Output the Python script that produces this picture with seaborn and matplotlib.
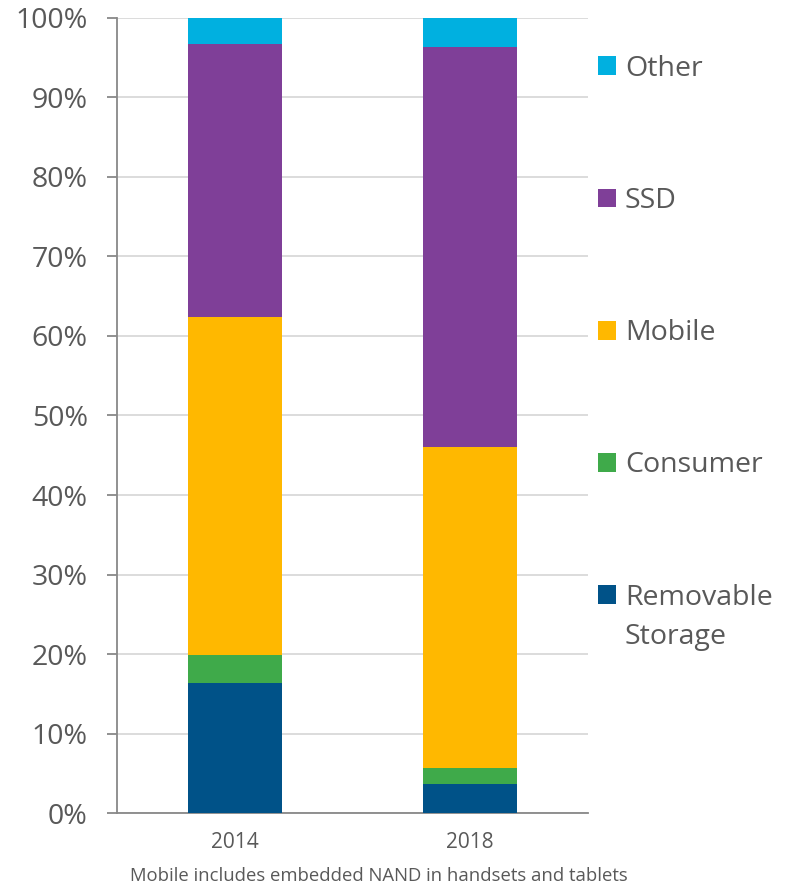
import numpy as np
import pandas as pd
import matplotlib
matplotlib.use("Agg")
import matplotlib.pyplot as plt
import seaborn as sns
from matplotlib.patches import Patch

# 数据 (百分比)
years = ["2014", "2018"]
removable = [16.4, 3.7]
consumer = [3.5, 2.0]
mobile = [42.5, 40.3]
ssd = [34.3, 50.4]
other = [3.3, 3.6]

series_names = ["Removable", "Consumer", "Mobile", "SSD", "Other"]
series_vals = [removable, consumer, mobile, ssd, other]
colors = ["#005288", "#3FAA4A", "#FFB800", "#7F3F98", "#00B0E0"]

sns.set_theme(style="white")
plt.rcParams['font.family'] = ['Open Sans', 'DejaVu Sans']
txt = "#595959"

fig = plt.figure(figsize=(7.88, 8.90), dpi=100)
ax = fig.add_axes([0.1485, 0.0865, 0.5975, 0.8933])

# 累计值, 从最上层开始画 (堆叠)
cum = np.cumsum(np.array(series_vals), axis=0)
for i in range(len(series_names) - 1, -1, -1):
    df = pd.DataFrame({"year": years, "val": cum[i]})
    sns.barplot(data=df, x="year", y="val", color=colors[i], width=0.4,
                saturation=1, ax=ax, zorder=3, linewidth=0)

ax.set_ylim(0, 100)
ax.set_xlim(-0.5, 1.5)
ax.set_yticks(np.arange(0, 101, 10))
ax.set_yticklabels([f"{v}%" for v in range(0, 101, 10)], fontsize=20.5, color=txt)
ax.set_xticks([0, 1])
ax.set_xticklabels(years, fontsize=15, color=txt)
ax.set_xticks([-0.5, 0.5, 1.5], minor=True)
ax.tick_params(axis="x", which="major", length=0, pad=14)
ax.tick_params(axis="x", which="minor", length=7, width=1.3, color="#888888", direction="out")
ax.tick_params(axis="y", length=7, width=1.3, color="#888888", direction="out", pad=14, left=True)
ax.set_xlabel("")
ax.set_ylabel("")

ax.grid(axis="y", color="#D9D9D9", linewidth=1.3, zorder=0)
ax.set_axisbelow(True)
for s in ["top", "right"]:
    ax.spines[s].set_visible(False)
for s in ["left", "bottom"]:
    ax.spines[s].set_color("#888888")
    ax.spines[s].set_linewidth(1.3)

handles = [Patch(facecolor=c, edgecolor="none") for c in colors][::-1]
labels = series_names[::-1]
leg = fig.legend(handles, labels, loc="upper left", bbox_to_anchor=(0.759, 0.9385),
                 frameon=False, fontsize=20.5, labelspacing=3.66, handlelength=0.64,
                 handleheight=0.64, handletextpad=0.3, borderpad=0, borderaxespad=0)
for t in leg.get_texts():
    t.set_color(txt)

# 第二行 "Storage" 放在 "Removable" 下面
fig.canvas.draw()
last = leg.get_texts()[-1]
bb = last.get_window_extent().transformed(fig.transFigure.inverted())
fig.text(bb.x0, bb.y0 - 0.0438, "Storage", fontsize=20.5, color=txt, ha="left", va="bottom")

fig.text(0.481, 0.006, "Mobile includes embedded NAND in handsets and tablets",
         ha="center", va="bottom", fontsize=13.3, color=txt)

fig.savefig("out.png", dpi=100)
